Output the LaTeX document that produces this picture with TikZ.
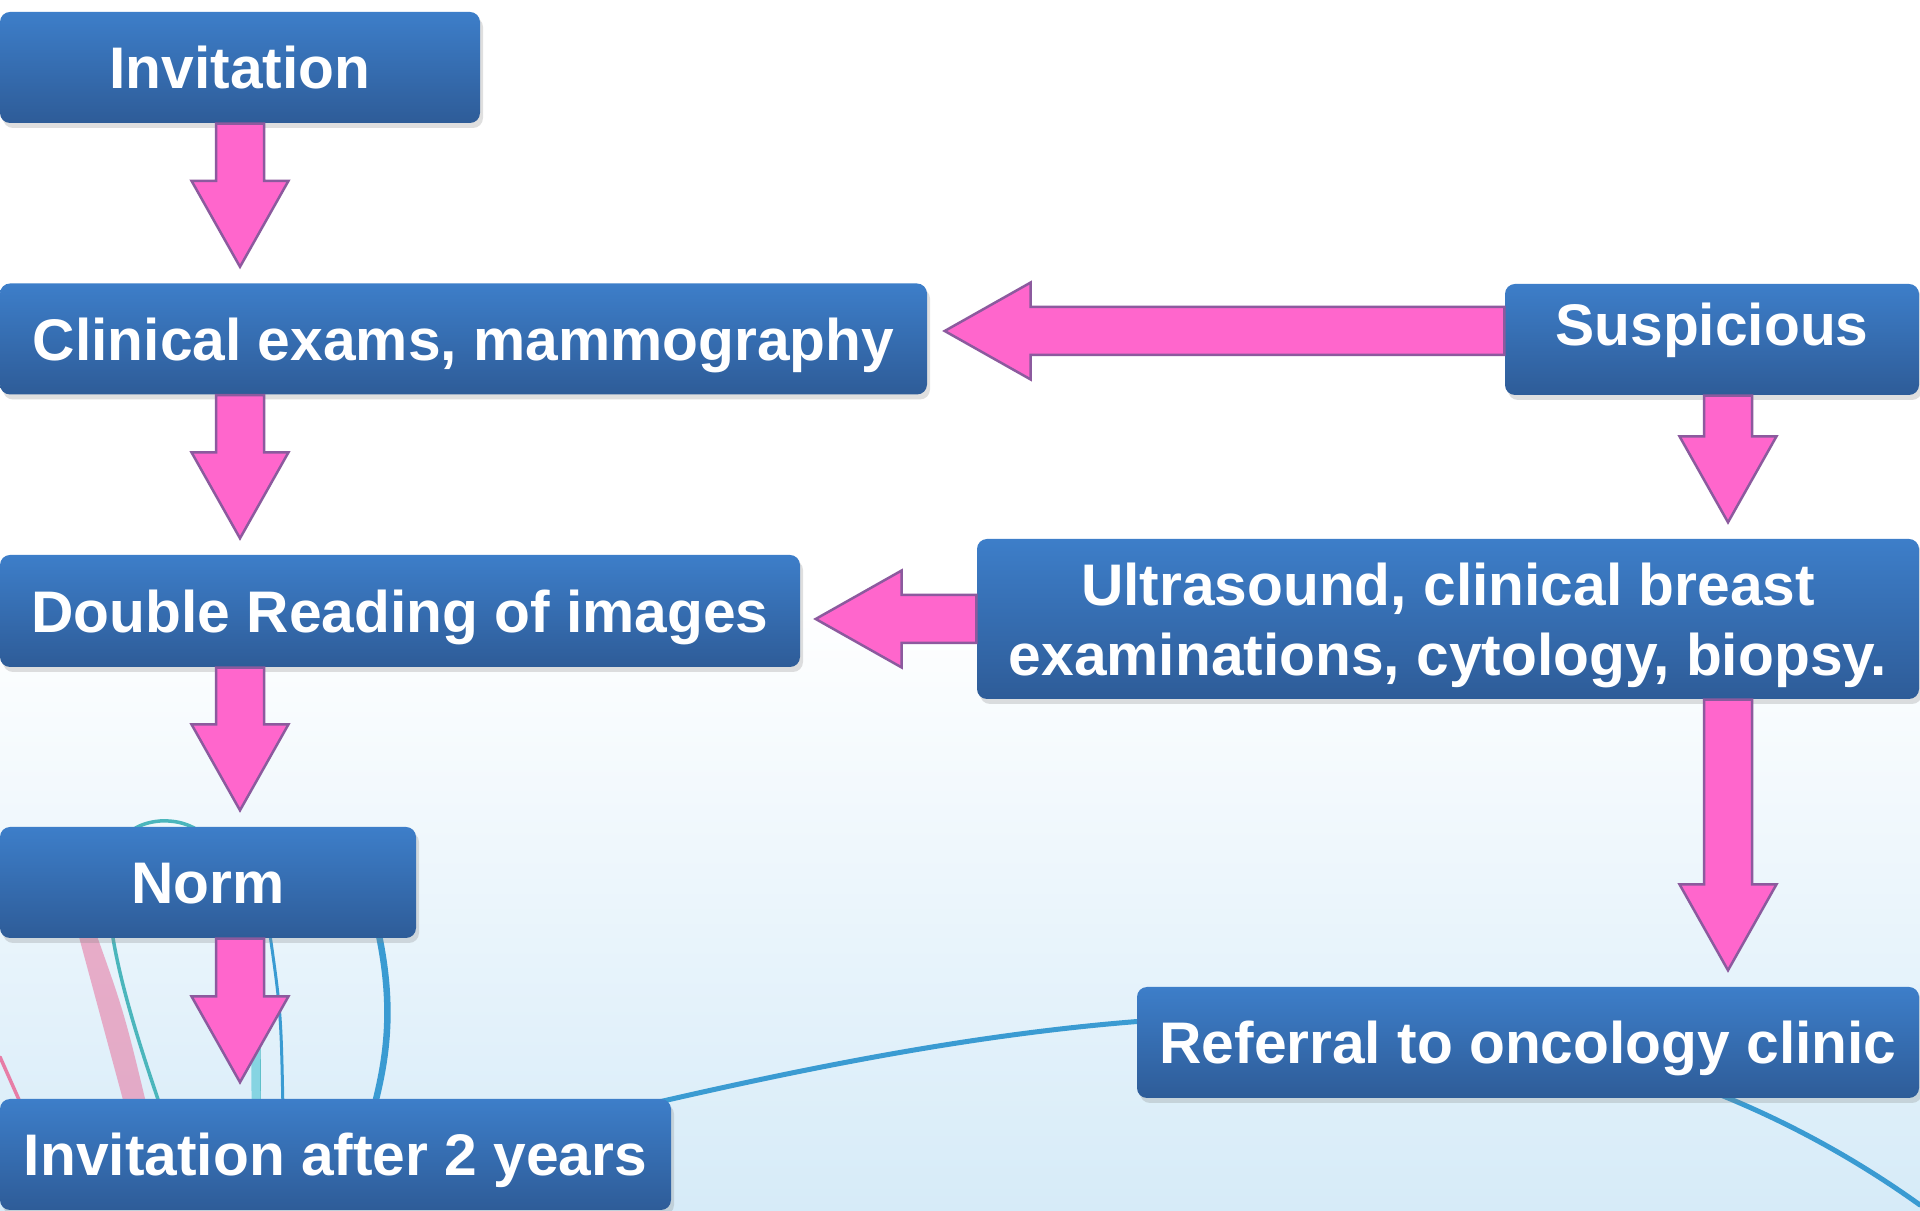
\documentclass[tikz,border=0pt]{standalone}
\usepackage{fontspec}
\setmainfont{Liberation Sans}
\usetikzlibrary{calc,shadows}
\definecolor{boxtop}{HTML}{3D7EC9}
\definecolor{boxbot}{HTML}{2E5C98}
\definecolor{arrowpink}{HTML}{FF66CC}
\definecolor{arrowrim}{HTML}{8C5A9E}
\definecolor{bgblue}{HTML}{D6EBF8}
\definecolor{curveblue}{HTML}{3A9BD2}
\definecolor{curveteal}{HTML}{4BB6BC}
\definecolor{curvecyan}{HTML}{86D4E2}
\definecolor{curvepink}{HTML}{E77DA6}
\begin{document}
\begin{tikzpicture}[x=0.1mm,y=0.1mm,
		box/.style={rectangle,rounded corners=1mm,top color=boxtop,bottom color=boxbot,
			text=white,font=\fontsize{16.7pt}{19.9pt}\selectfont\bfseries,align=center,
			text height=12pt,text depth=0pt,inner sep=0pt,minimum height=11.1mm,
			drop shadow={shadow xshift=0.3mm,shadow yshift=-0.5mm,opacity=0.25}},
		blockarrow/.style={fill=arrowpink,draw=arrowrim,line width=0.25mm,
			to path={let \p1=(\tikztostart), \p2=(\tikztotarget),
				\n1={atan2(\y2-\y1,\x2-\x1)}, \n2={veclen(\x2-\x1,\y2-\y1)} in
				{[shift={(\p1)},rotate=\n1]
				(0pt,-2.4mm) -- ({\n2*1pt-8.6mm},-2.4mm) -- ({\n2*1pt-8.6mm},-4.85mm) -- ({\n2*1pt},0pt)
				-- ({\n2*1pt-8.6mm},4.85mm) -- ({\n2*1pt-8.6mm},2.4mm) -- (0pt,2.4mm) -- cycle}}}]
	\shade[top color=white,bottom color=bgblue,middle color=white] (0,0) rectangle (1920,1211);
	\useasboundingbox (0,0) rectangle (1920,1211);
	\begin{scope}[line cap=round]
		\fill[curvepink,opacity=0.6] (72,300) -- (88,300) .. controls (124,200) .. (148,100) -- (126,100) .. controls (100,200) .. cycle;
		\draw[curvepink,line width=0.35mm] (0,154) -- (24,100);
		\draw[curveteal,line width=0.35mm] (162,100) .. controls (110,251) and (75,383) .. (160,390) .. controls (232,394) and (262,300) .. (259,100);
		\draw[curvecyan,line width=0.9mm] (250,260) .. controls (256,200) .. (256,100);
		\draw[curveblue,line width=0.3mm] (268,290) .. controls (281,200) .. (283,100);
		\draw[curveblue,line width=0.65mm] (365,331) .. controls (395,230) and (392,170) .. (373,100);
		\draw[curveblue,line width=0.5mm] (650,107) .. controls (1100,211) and (1550,271) .. (1920,6);
	\end{scope}
	\coordinate (colL) at (240,0);
	\coordinate (colR) at (1728,0);
	\coordinate (rowA) at (0,880);
	\path (240,1143.5)  node[box,minimum width=48mm]   (inv)   {Invitation};
	\path (463.5,872)   node[box,minimum width=92.7mm] (clin)  {Clinical exams, mammography};
	\path (1712,871.5)  node[box,minimum width=41.4mm,text depth=8.5pt] (susp) {Suspicious};
	\path (400,600)     node[box,minimum width=80mm,minimum height=11.2mm] (dbl) {Double Reading of images};
	\path (1448,592)    node[box,minimum width=94.2mm,minimum height=16mm,text height=31.9pt] (ultra) {Ultrasound, clinical breast\\examinations, cytology, biopsy.};
	\path (208,328.5)   node[box,minimum width=41.6mm] (norm)  {Norm};
	\path (335.5,56.5)  node[box,minimum width=67.1mm] (inv2)  {Invitation after 2 years};
	\path (1528,168.5)  node[box,minimum width=78.2mm] (ref)   {Referral to oncology clinic};
	\draw[blockarrow] (inv.south -| colL)   to ($(clin.north -| colL)+(0,16)$);
	\draw[blockarrow] (clin.south -| colL)  to ($(dbl.north -| colL)+(0,16)$);
	\draw[blockarrow] (dbl.south -| colL)   to ($(norm.north -| colL)+(0,16)$);
	\draw[blockarrow] (norm.south -| colL)  to ($(inv2.north -| colL)+(0,16)$);
	\draw[blockarrow] (susp.west |- rowA)   to ($(clin.east |- rowA)+(17,0)$);
	\draw[blockarrow] (susp.south -| colR)  to ($(ultra.north -| colR)+(0,16)$);
	\draw[blockarrow] (ultra.west)          to ($(dbl.east |- ultra.west)+(15,0)$);
	\draw[blockarrow] (ultra.south -| colR) to ($(ref.north -| colR)+(0,16)$);
\end{tikzpicture}
\end{document}
